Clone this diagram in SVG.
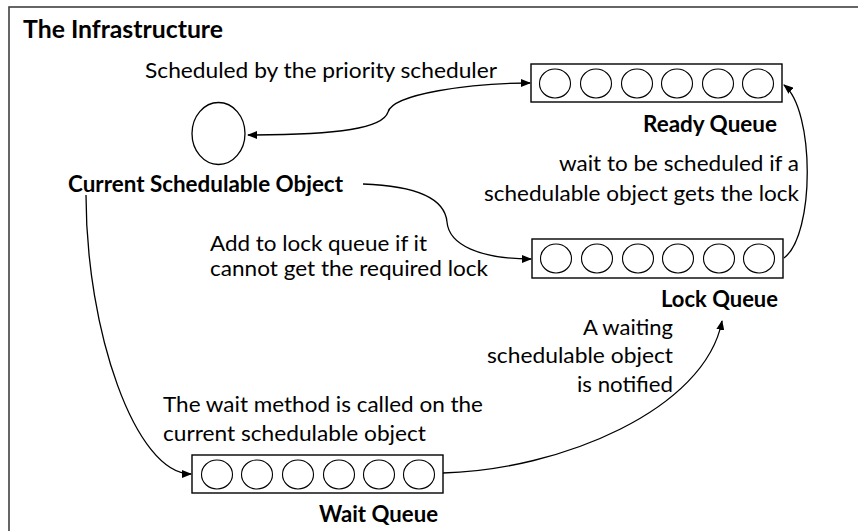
<svg xmlns="http://www.w3.org/2000/svg" width="858" height="531" viewBox="0 0 858 531">
<defs>
<style>
.t{font-family:Lato,"Open Sans","Liberation Sans",sans-serif;font-size:22px;fill:#000}
.b{font-family:Lato,"Open Sans","Liberation Sans",sans-serif;font-size:22px;font-weight:bold;fill:#000}
.box{fill:#fff;stroke:#000;stroke-width:1.4}
.slot{fill:#fff;stroke:#000;stroke-width:1.1}
.conn{fill:none;stroke:#000;stroke-width:1.3}
</style>
<marker id="ah" markerWidth="10" markerHeight="8" refX="9" refY="4" orient="auto-start-reverse" markerUnits="userSpaceOnUse">
<path d="M0,0 L10,4 L0,8 Z" fill="#000"/>
</marker>
<g id="slots">
<ellipse class="slot" cx="0" cy="0" rx="15.5" ry="14.5"/>
</g>
</defs>
<rect x="0" y="0" width="858" height="531" fill="#fff"/>
<rect x="9" y="7" width="870" height="540" fill="none" stroke="#404040" stroke-width="1.6"/>
<text class="b" x="23" y="38" textLength="200" lengthAdjust="spacingAndGlyphs" style="font-size:24px">The Infrastructure</text>

<g id="connectors">
<path class="conn" d="M248,135 C340,135 383,128 388,112 C393,94 470,83 530,83" marker-start="url(#ah)" marker-end="url(#ah)"/>
<path class="conn" d="M363,184 C420,186 445,200 447,222 C449,245 480,259 531,259" marker-end="url(#ah)"/>
<path class="conn" d="M784,258 C815,235 815,110 784,85" marker-end="url(#ah)"/>
<path class="conn" d="M86,195 C86,330 135,474 191,474" marker-end="url(#ah)"/>
<path class="conn" d="M443,473 C560,470 705,410 722,321" marker-end="url(#ah)"/>
</g>

<g id="current">
<ellipse cx="218.5" cy="133.5" rx="26.5" ry="31" fill="#fff" stroke="#000" stroke-width="1.3"/>
<text class="b" x="68" y="192" textLength="275" lengthAdjust="spacingAndGlyphs">Current Schedulable Object</text>
</g>

<g id="ready">
<rect class="box" x="531" y="64" width="251" height="38"/>
<use href="#slots" x="555" y="83.5"/>
<use href="#slots" x="596" y="83.5"/>
<use href="#slots" x="637" y="83.5"/>
<use href="#slots" x="677" y="83.5"/>
<use href="#slots" x="718" y="83.5"/>
<use href="#slots" x="758" y="83.5"/>
<text class="b" x="643" y="132" textLength="134" lengthAdjust="spacingAndGlyphs">Ready Queue</text>
</g>

<g id="lock">
<rect class="box" x="532" y="239" width="251" height="39"/>
<use href="#slots" x="556" y="258.5"/>
<use href="#slots" x="597" y="258.5"/>
<use href="#slots" x="638" y="258.5"/>
<use href="#slots" x="678" y="258.5"/>
<use href="#slots" x="719" y="258.5"/>
<use href="#slots" x="759" y="258.5"/>
<text class="b" x="661" y="307" textLength="117" lengthAdjust="spacingAndGlyphs">Lock Queue</text>
</g>

<g id="wait">
<rect class="box" x="192" y="455" width="251" height="38"/>
<use href="#slots" x="217" y="474.5"/>
<use href="#slots" x="257" y="474.5"/>
<use href="#slots" x="298" y="474.5"/>
<use href="#slots" x="339" y="474.5"/>
<use href="#slots" x="379" y="474.5"/>
<use href="#slots" x="419" y="474.5"/>
<text class="b" x="319" y="522" textLength="119" lengthAdjust="spacingAndGlyphs">Wait Queue</text>
</g>

<g id="labels">
<text class="t" x="145" y="78" textLength="352" lengthAdjust="spacingAndGlyphs">Scheduled by the priority scheduler</text>
<text class="t" x="559" y="171" textLength="240" lengthAdjust="spacingAndGlyphs">wait to be scheduled if a</text>
<text class="t" x="484" y="201" textLength="315" lengthAdjust="spacingAndGlyphs">schedulable object gets the lock</text>
<text class="t" x="210" y="251" textLength="217" lengthAdjust="spacingAndGlyphs">Add to lock queue if it</text>
<text class="t" x="210" y="276" textLength="278" lengthAdjust="spacingAndGlyphs">cannot get the required lock</text>
<text class="t" x="583" y="335" textLength="90" lengthAdjust="spacingAndGlyphs">A waiting</text>
<text class="t" x="487" y="363" textLength="186" lengthAdjust="spacingAndGlyphs">schedulable object</text>
<text class="t" x="577" y="392" textLength="96" lengthAdjust="spacingAndGlyphs">is notified</text>
<text class="t" x="163" y="412" textLength="320" lengthAdjust="spacingAndGlyphs">The wait method is called on the</text>
<text class="t" x="163" y="441" textLength="263" lengthAdjust="spacingAndGlyphs">current schedulable object</text>
</g>
</svg>
